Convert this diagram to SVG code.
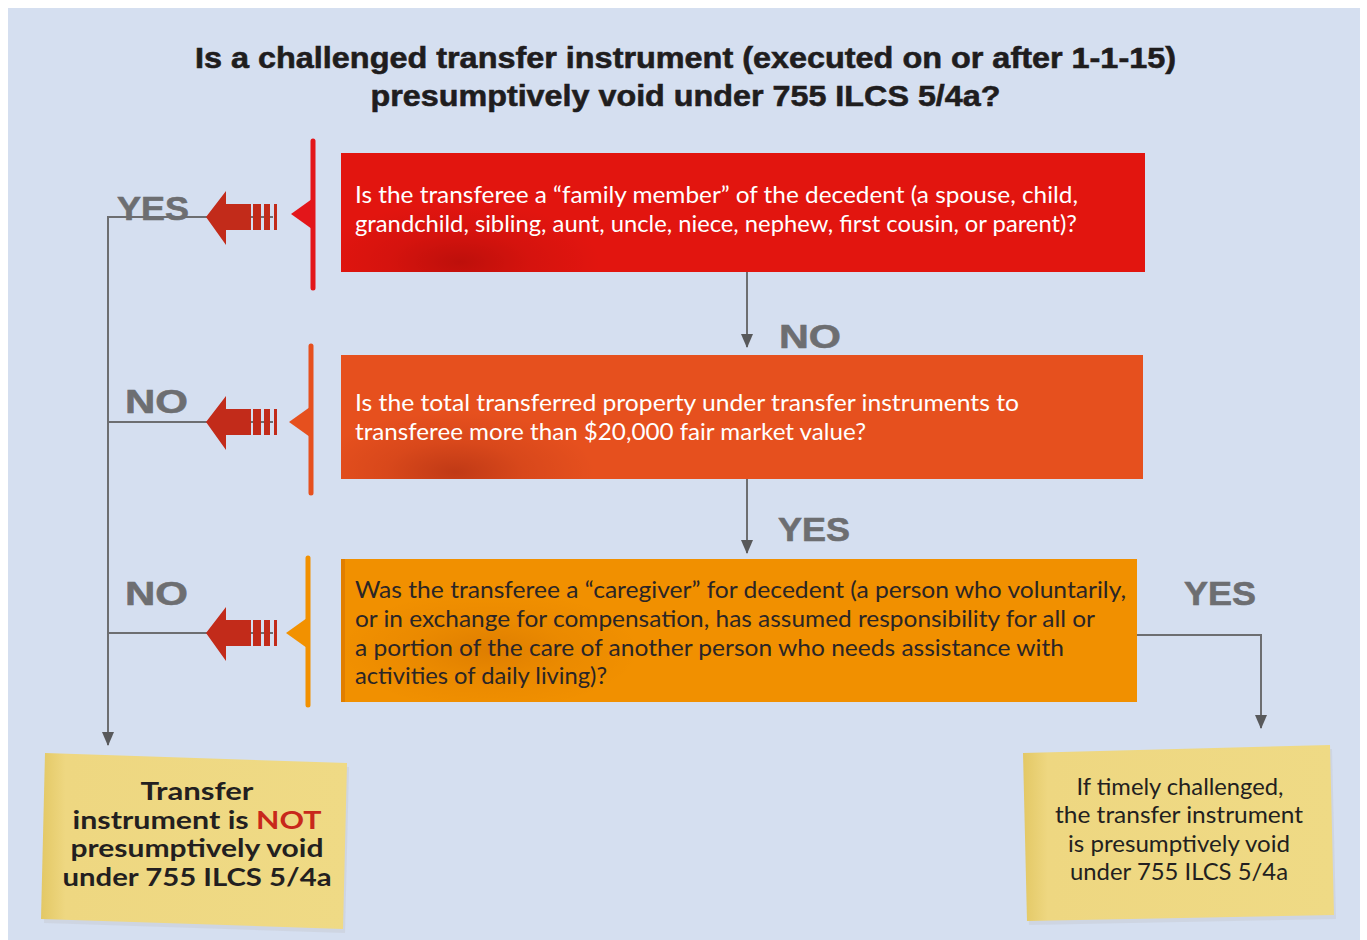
<svg xmlns="http://www.w3.org/2000/svg" width="1367" height="940" viewBox="0 0 1367 940">
<style>
.title{font-family:"Liberation Sans",Arial,sans-serif;font-weight:bold;font-size:30px;fill:#1f1d1e;stroke:#1f1d1e;stroke-width:0.6px}
.lbl{font-family:"Liberation Sans",Arial,sans-serif;font-weight:bold;font-size:34px;fill:#6d6e71;stroke:#6d6e71;stroke-width:0.6px}
.bt{font-family:Lato,"Open Sans",sans-serif;font-size:24px}
.w{fill:#ffffff}
.d{fill:#2a2526}
.nt{font-family:Lato,"Open Sans",sans-serif;font-size:24px;fill:#231f20;text-anchor:middle}
.nb{font-weight:bold}
.conn{stroke:#6d6e71;stroke-width:2;fill:none}
.icon{fill:#c22b1a}
</style>
<defs>
<marker id="ah" markerUnits="userSpaceOnUse" markerWidth="14" markerHeight="18" refX="13" refY="6" orient="auto">
<path d="M0,0 L14,6 L0,12 Z" fill="#58595b"/>
</marker>
<g id="larrow">
<polygon points="0,0 20,-26 20,-13 45,-13 45,13 20,13 20,28"/>
<rect x="47" y="-13" width="8" height="26"/>
<rect x="58" y="-13" width="6" height="26"/>
<rect x="68" y="-13" width="3" height="26"/>
</g>
<radialGradient id="shade" cx="0.5" cy="0.5" r="0.5">
<stop offset="0" stop-color="#600000" stop-opacity="0.28"/>
<stop offset="0.5" stop-color="#600000" stop-opacity="0.1"/>
<stop offset="1" stop-color="#600000" stop-opacity="0"/>
</radialGradient>
<linearGradient id="noteL" x1="0" y1="0" x2="1" y2="0">
<stop offset="0" stop-color="#e3c865"/>
<stop offset="0.08" stop-color="#eed781"/>
<stop offset="1" stop-color="#efda85"/>
</linearGradient>
<clipPath id="c1"><rect x="341" y="153" width="804" height="119"/></clipPath>
<clipPath id="c2"><rect x="341" y="355" width="802" height="124"/></clipPath>
<clipPath id="c3"><rect x="341" y="559" width="796" height="143"/></clipPath>
</defs>
<rect x="0" y="0" width="1367" height="940" fill="#ffffff"/>
<rect x="8" y="8" width="1352" height="932" fill="#d5dff0"/>

<g id="title">
<text class="title" x="685.5" y="68" text-anchor="middle" textLength="981" lengthAdjust="spacingAndGlyphs">Is a challenged transfer instrument (executed on or after 1-1-15)</text>
<text class="title" x="685.5" y="106" text-anchor="middle" textLength="630" lengthAdjust="spacingAndGlyphs">presumptively void under 755 ILCS 5/4a?</text>
</g>

<g id="connectors">
<line class="conn" x1="747" y1="272" x2="747" y2="347" marker-end="url(#ah)"/>
<line class="conn" x1="747" y1="479" x2="747" y2="553" marker-end="url(#ah)"/>
<polyline class="conn" points="1137,635 1261,635 1261,728" marker-end="url(#ah)"/>
<polyline class="conn" points="273,217 108,217 108,745" marker-end="url(#ah)"/>
<line class="conn" x1="108" y1="422" x2="273" y2="422"/>
<line class="conn" x1="108" y1="633" x2="273" y2="633"/>
</g>

<g id="q1">
<rect x="341" y="153" width="804" height="119" fill="#e2150f"/>
<ellipse cx="460" cy="262" rx="140" ry="60" fill="url(#shade)" clip-path="url(#c1)"/>
<text class="bt w" x="355" y="203" textLength="723" lengthAdjust="spacingAndGlyphs">Is the transferee a “family member” of the decedent (a spouse, child,</text>
<text class="bt w" x="355" y="232" textLength="722" lengthAdjust="spacingAndGlyphs">grandchild, sibling, aunt, uncle, niece, nephew, first cousin, or parent)?</text>
</g>

<g id="q2">
<rect x="341" y="355" width="802" height="124" fill="#e6501e"/>
<ellipse cx="455" cy="472" rx="140" ry="60" fill="url(#shade)" clip-path="url(#c2)"/>
<text class="bt w" x="355" y="411" textLength="664" lengthAdjust="spacingAndGlyphs">Is the total transferred property under transfer instruments to</text>
<text class="bt w" x="355" y="440" textLength="511" lengthAdjust="spacingAndGlyphs">transferee more than $20,000 fair market value?</text>
</g>

<g id="q3">
<rect x="341" y="559" width="796" height="143" fill="#f19000"/>
<ellipse cx="490" cy="650" rx="150" ry="60" fill="url(#shade)" opacity="0.45" clip-path="url(#c3)"/>
<rect x="341" y="559" width="4" height="143" fill="#e07e00"/>
<text class="bt d" x="355" y="598" textLength="771" lengthAdjust="spacingAndGlyphs">Was the transferee a “caregiver” for decedent (a person who voluntarily,</text>
<text class="bt d" x="355" y="627" textLength="740" lengthAdjust="spacingAndGlyphs">or in exchange for compensation, has assumed responsibility for all or</text>
<text class="bt d" x="355" y="656" textLength="709" lengthAdjust="spacingAndGlyphs">a portion of the care of another person who needs assistance with</text>
<text class="bt d" x="355" y="684" textLength="252" lengthAdjust="spacingAndGlyphs">activities of daily living)?</text>
</g>

<g id="bar1">
<line x1="313" y1="141" x2="313" y2="288" stroke="#e3161a" stroke-width="5" stroke-linecap="round"/>
<polygon points="291,214 312,199 312,229" fill="#e3161a"/>
</g>
<g id="bar2">
<line x1="311" y1="346" x2="311" y2="493" stroke="#e6501e" stroke-width="5" stroke-linecap="round"/>
<polygon points="289,422 310,407 310,437" fill="#e6501e"/>
</g>
<g id="bar3">
<line x1="308" y1="558" x2="308" y2="705" stroke="#f29100" stroke-width="5" stroke-linecap="round"/>
<polygon points="286,633 307,618 307,648" fill="#f29100"/>
</g>

<g id="icon1" class="icon"><use href="#larrow" x="206" y="217"/></g>
<g id="icon2" class="icon"><use href="#larrow" x="206" y="422"/></g>
<g id="icon3" class="icon"><use href="#larrow" x="206" y="633"/></g>

<g id="labels">
<text class="lbl" x="117" y="220" textLength="72" lengthAdjust="spacingAndGlyphs">YES</text>
<text class="lbl" x="125" y="413" textLength="63" lengthAdjust="spacingAndGlyphs">NO</text>
<text class="lbl" x="125" y="605" textLength="63" lengthAdjust="spacingAndGlyphs">NO</text>
<text class="lbl" x="779" y="348" textLength="62" lengthAdjust="spacingAndGlyphs">NO</text>
<text class="lbl" x="778" y="541" textLength="72" lengthAdjust="spacingAndGlyphs">YES</text>
<text class="lbl" x="1184" y="605" textLength="72" lengthAdjust="spacingAndGlyphs">YES</text>
</g>

<g id="note-left">
<polygon points="47,757 349,767 345,933 44,923" fill="#c9cfd9" opacity="0.6"/>
<polygon points="45,753 347,763 343,929 41,919" fill="url(#noteL)"/>
<text class="nt nb" x="197" y="800" textLength="113" lengthAdjust="spacingAndGlyphs">Transfer</text>
<text class="nt nb" x="197" y="829" textLength="249" lengthAdjust="spacingAndGlyphs">instrument is <tspan fill="#c8281b">NOT</tspan></text>
<text class="nt nb" x="197" y="857" textLength="253" lengthAdjust="spacingAndGlyphs">presumptively void</text>
<text class="nt nb" x="197" y="886" textLength="269" lengthAdjust="spacingAndGlyphs">under 755 ILCS 5/4a</text>
</g>

<g id="note-right">
<polygon points="1025,757 1332,749 1336,919 1029,925" fill="#c9cfd9" opacity="0.6"/>
<polygon points="1023,753 1330,745 1334,915 1027,921" fill="url(#noteL)"/>
<text class="nt" x="1180" y="795" textLength="207" lengthAdjust="spacingAndGlyphs">If timely challenged,</text>
<text class="nt" x="1179" y="823" textLength="248" lengthAdjust="spacingAndGlyphs">the transfer instrument</text>
<text class="nt" x="1179" y="852" textLength="222" lengthAdjust="spacingAndGlyphs">is presumptively void</text>
<text class="nt" x="1179" y="880" textLength="218" lengthAdjust="spacingAndGlyphs">under 755 ILCS 5/4a</text>
</g>
</svg>
